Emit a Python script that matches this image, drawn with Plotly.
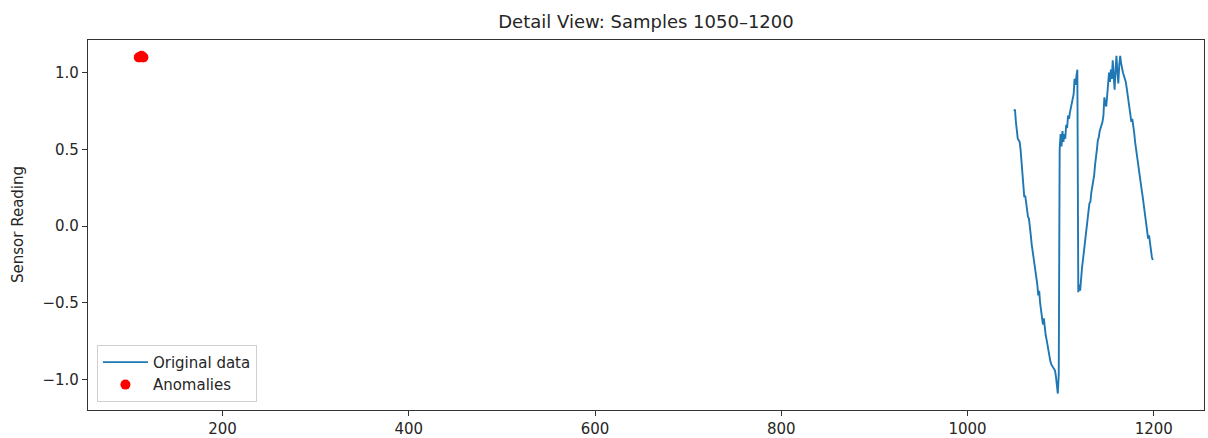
import plotly.graph_objects as go

# Sample indices for the detail window
sample_start = 1050
sample_end = 1200
samples = list(range(sample_start, sample_end))

# Sensor readings
readings_seg1 = [0.75, 0.76, 0.68, 0.62, 0.57, 0.56, 0.55, 0.50, 0.43, 0.38,
                 0.30, 0.19, 0.20, 0.14, 0.12, 0.06, 0.05, -0.03, -0.06, -0.12,
                 -0.16, -0.20, -0.25, -0.30, -0.32, -0.38, -0.45, -0.42, -0.50, -0.55,
                 -0.58, -0.64, -0.60, -0.68, -0.71, -0.74, -0.78, -0.83, -0.86, -0.88,
                 -0.90, -0.91, -0.92, -0.93, -0.94, -0.98, -1.02, -1.09, -0.97]
readings_seg2 = [0.50, 0.60, 0.52, 0.62, 0.55, 0.60, 0.57, 0.66, 0.64, 0.72,
                 0.70, 0.74, 0.77, 0.79, 0.82, 0.86, 0.96, 0.92, 0.98, 1.02]
readings_seg3 = [-0.43, -0.38, -0.42, -0.30, -0.27, -0.22, -0.16, -0.10, -0.05, 0.00,
                 0.06, 0.10, 0.15, 0.16, 0.22, 0.26, 0.28, 0.33, 0.40, 0.44,
                 0.50, 0.56, 0.58, 0.62, 0.64, 0.66, 0.68, 0.72, 0.84, 0.80,
                 0.78, 0.85, 0.92, 1.00, 0.94, 1.02, 0.96, 1.08, 0.98, 0.89,
                 1.02, 1.11, 1.00, 0.93, 1.05, 1.11, 1.06]
readings_seg4 = [1.02, 1.00, 0.98, 0.96, 0.94, 0.90, 0.85, 0.80, 0.76, 0.73,
                 0.68, 0.70, 0.63, 0.61, 0.55, 0.50, 0.47, 0.43, 0.38, 0.33,
                 0.29, 0.24, 0.20, 0.15, 0.11, 0.05, 0.02, -0.03, -0.08, -0.06,
                 -0.12, -0.17, -0.20, -0.22]
readings = readings_seg1 + readings_seg2 + readings_seg3 + readings_seg4

# Anomalies (plotted at window-relative positions, as in the reference)
anomaly_x = [110, 111, 113, 114, 115]
anomaly_y = [1.10, 1.10, 1.11, 1.10, 1.10]

# Tick labels
x_ticks = [200, 400, 600, 800, 1000, 1200]
y_ticks = [-1.0, -0.5, 0.0, 0.5, 1.0]
y_tick_text = ["\u22121.0", "\u22120.5", "0.0", "0.5", "1.0"]

FONT = "DejaVu Sans"

fig = go.Figure()
fig.add_trace(go.Scatter(
    x=samples, y=readings, mode="lines", name="Original data",
    line=dict(color="#1f77b4", width=1.9),
))
fig.add_trace(go.Scatter(
    x=anomaly_x, y=anomaly_y, mode="markers", name="Anomalies",
    marker=dict(color="red", size=10, line=dict(width=0)),
))

axis_common = dict(
    showgrid=False, zeroline=False, showline=True, mirror=True,
    linecolor="#333333", linewidth=1.2,
    ticks="outside", ticklen=5, tickwidth=1.2, tickcolor="#333333",
    tickfont=dict(family=FONT, size=15, color="#262626"),
)

fig.update_layout(
    width=1208, height=438,
    margin=dict(l=88, r=4, t=40, b=28),
    paper_bgcolor="white", plot_bgcolor="white",
    font=dict(family=FONT, color="#262626"),
    title=dict(text="Detail View: Samples 1050\u20131200", x=0.5, xref="paper",
               xanchor="center", y=1 - 22 / 438, yref="container", yanchor="middle",
               font=dict(family=FONT, size=18, color="#262626")),
    xaxis=dict(range=[55.5, 1254], tickvals=x_ticks, automargin=False, **axis_common),
    yaxis=dict(range=[-1.197, 1.213], tickvals=y_ticks, ticktext=y_tick_text,
               automargin=False, **axis_common),
    legend=dict(x=0.008, y=0.022, xanchor="left", yanchor="bottom",
                bgcolor="rgba(255,255,255,0.8)", bordercolor="#d0d0d0", borderwidth=1,
                itemwidth=45, tracegroupgap=0,
                font=dict(family=FONT, size=15, color="#262626")),
    showlegend=True,
    annotations=[dict(text="Sensor Reading", textangle=-90, x=(18 - 88) / 1116, y=0.5,
                      xref="paper", yref="paper", xanchor="center", yanchor="middle",
                      showarrow=False, font=dict(family=FONT, size=15, color="#262626"))],
)

fig.write_html(
    "out.html",
    config={"displayModeBar": False},
    post_script="document.body.style.margin='0';document.body.style.padding='0';"
                "document.body.style.overflow='hidden';",
)
